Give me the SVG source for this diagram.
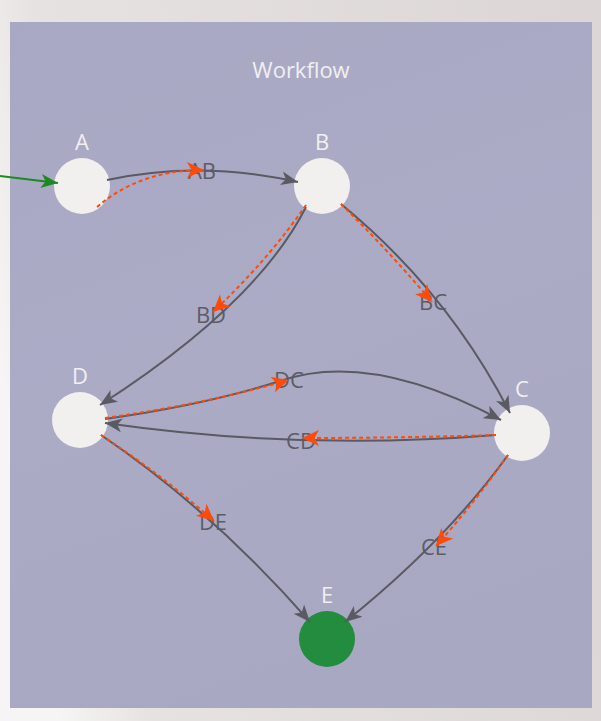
<svg xmlns="http://www.w3.org/2000/svg" width="601" height="721" viewBox="0 0 601 721">
<defs>
<linearGradient id="bg" x1="0" y1="0.5" x2="1" y2="0.3">
<stop offset="0" stop-color="#f6f4f4"/>
<stop offset="0.15" stop-color="#e6e2e1"/>
<stop offset="1" stop-color="#dcd7d6"/>
</linearGradient>
<linearGradient id="panel" x1="0" y1="0" x2="0.3" y2="1">
<stop offset="0" stop-color="#a8a8c4"/>
<stop offset="0.5" stop-color="#ababc6"/>
<stop offset="1" stop-color="#a8a8c3"/>
</linearGradient>
<marker id="ag" markerUnits="userSpaceOnUse" markerWidth="20" markerHeight="16" refX="17" refY="8" orient="auto">
<path d="M0,1 L17,8 L0,15 L4.5,8 z" fill="#5a5a62"/>
</marker>
<marker id="ar" markerUnits="userSpaceOnUse" markerWidth="20" markerHeight="18" refX="17" refY="9" orient="auto">
<path d="M0,1 L17,9 L0,17 L4.5,9 z" fill="#ff4a0a"/>
</marker>
<marker id="agr" markerUnits="userSpaceOnUse" markerWidth="20" markerHeight="16" refX="17" refY="8" orient="auto">
<path d="M0,1 L17,8 L0,15 L4.5,8 z" fill="#1c8a1f"/>
</marker>
</defs>
<style>
.e{fill:none;stroke:#5a5a62;stroke-width:2;marker-end:url(#ag)}
.r{fill:none;stroke:#ff4a0a;stroke-width:2;stroke-dasharray:4 3;marker-end:url(#ar)}
.n{fill:#f2efef}
.nl{font-family:"Open Sans","Noto Sans",sans-serif;font-size:22px;fill:#f2eff1;text-anchor:middle}
.el{font-family:"Open Sans","Noto Sans",sans-serif;font-size:22px;fill:#5c5c66;text-anchor:middle}
</style>
<rect width="601" height="721" fill="url(#bg)"/>
<rect x="10" y="22" width="582" height="686" fill="url(#panel)"/>
<text x="301" y="78" class="nl">Workflow</text>
<g id="node-A"><circle class="n" cx="82" cy="186" r="28"/><text x="82" y="150" class="nl">A</text></g>
<g id="node-B"><circle class="n" cx="322" cy="186" r="28"/><text x="322" y="150" class="nl">B</text></g>
<g id="node-C"><circle class="n" cx="522" cy="433" r="28"/><text x="522" y="397" class="nl">C</text></g>
<g id="node-D"><circle class="n" cx="80" cy="420" r="28"/><text x="80" y="384" class="nl">D</text></g>
<g id="node-E"><circle cx="327" cy="639" r="28" fill="#238c3e"/><text x="327" y="603" class="nl">E</text></g>
<g id="connectors">
<text x="202" y="179" class="el">AB</text>
<text x="211" y="323" class="el">BD</text>
<text x="433" y="310" class="el">BC</text>
<text x="289" y="388" class="el">DC</text>
<text x="301" y="449" class="el">CD</text>
<text x="213" y="530" class="el">DE</text>
<text x="434" y="555" class="el">CE</text>
<path d="M0,176 L58,183" fill="none" stroke="#1c8a1f" stroke-width="2" marker-end="url(#agr)"/>
<path class="e" d="M107,180 Q200,160 298,182"/>
<path class="r" d="M97,207 Q140,170 204,170"/>
<path class="e" d="M306,207 Q257,304 100,405"/>
<path class="r" d="M306,205 Q268,260 213,312"/>
<path class="e" d="M341,204 Q448,292 510,413"/>
<path class="r" d="M341,204 Q388,250 432,302"/>
<path class="e" d="M105,419 Q205,405 280,381 Q370,350 501,420"/>
<path class="r" d="M105,418 Q205,404 289,380"/>
<path class="e" d="M496,435 Q301,451 105,423"/>
<path class="r" d="M496,435 Q400,438 302,438"/>
<path class="e" d="M101,435 Q214,512 310,622"/>
<path class="r" d="M101,435 Q162,475 214,521"/>
<path class="e" d="M508,455 Q445,542 345,622"/>
<path class="r" d="M508,455 Q476,501 436,546"/>
</g>
</svg>
